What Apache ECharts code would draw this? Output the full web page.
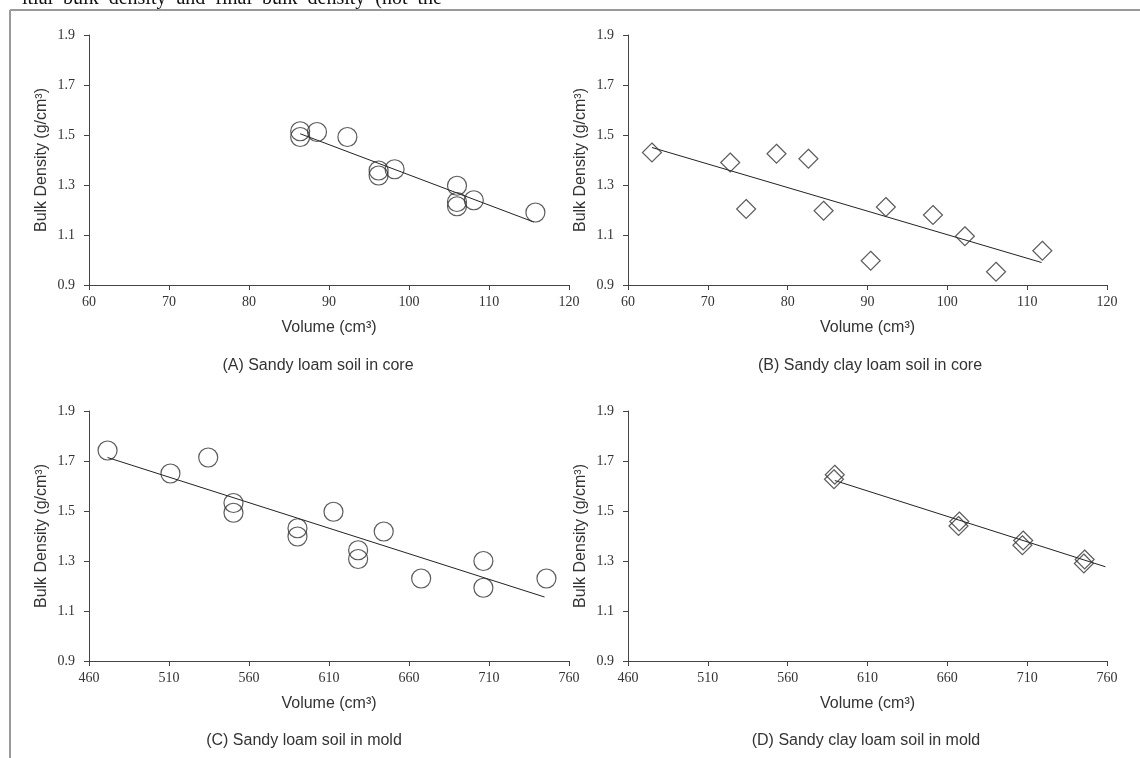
<!DOCTYPE html>
<html>
<head>
<meta charset="utf-8">
<script src="https://cdn.jsdelivr.net/npm/echarts@6/dist/echarts.min.js"></script>
<style>
  html, body { margin: 0; padding: 0; background: #fff; }
  #main { width: 1140px; height: 758px; }
</style>
</head>
<body>
<div id="main"></div>
<script>
// (A) sandy loam, core
const volA = [86.4, 86.4, 88.5, 92.3, 96.2, 96.2, 98.2, 106.0, 106.0, 106.0, 108.1, 115.8];
const densA = [1.515, 1.492, 1.512, 1.492, 1.358, 1.338, 1.363, 1.297, 1.232, 1.215, 1.239, 1.19];
const trendVolA = [86.4, 115.6];
const trendDensA = [1.505, 1.152];

// (B) sandy clay loam, core
const volB = [63.0, 72.8, 74.8, 78.6, 82.6, 84.5, 90.4, 92.3, 98.2, 102.2, 106.1, 111.9];
const densB = [1.430, 1.390, 1.204, 1.425, 1.405, 1.197, 0.997, 1.212, 1.180, 1.095, 0.953, 1.037];
const trendVolB = [63.0, 111.8];
const trendDensB = [1.450, 0.990];

// (C) sandy loam, mold
const volC = [471.6, 510.9, 534.5, 550.3, 550.3, 590.3, 590.3, 612.8, 628.2, 628.2, 644.2, 667.6, 706.5, 706.5, 745.9];
const densC = [1.742, 1.650, 1.714, 1.532, 1.493, 1.431, 1.398, 1.497, 1.343, 1.308, 1.418, 1.230, 1.300, 1.193, 1.230];
const trendVolC = [471.6, 744.7];
const trendDensC = [1.714, 1.156];

// (D) sandy clay loam, mold
const volD = [589.5, 589.0, 667.5, 667.0, 707.5, 707.0, 746.0, 745.5];
const densD = [1.645, 1.627, 1.458, 1.440, 1.382, 1.363, 1.306, 1.290];
const trendVolD = [589.5, 759];
const trendDensD = [1.622, 1.277];

const captions = [
  '(A) Sandy loam soil in core',
  '(B) Sandy clay loam soil in core',
  '(C) Sandy loam soil in mold',
  '(D) Sandy clay loam soil in mold'
];
const yTitle = 'Bulk Density (g/cm³)';
const xTitle = 'Volume (cm³)';

function pairs(xs, ys) {
  return xs.map((x, i) => [x, ys[i]]);
}

var myChart = echarts.init(document.getElementById('main'));

const grids = [
  { left: 89, top: 35, width: 480, height: 250 },
  { left: 628, top: 35, width: 479, height: 250 },
  { left: 89, top: 411, width: 480, height: 250 },
  { left: 628, top: 411, width: 479, height: 250 }
];
const xRanges = [[60, 120, 10], [60, 120, 10], [460, 760, 50], [460, 760, 50]];

const axisLine = { show: true, lineStyle: { color: '#444', width: 1 } };
const axisTick = { show: true, inside: false, length: 5, lineStyle: { color: '#444' } };
const tickFont = { fontFamily: 'Liberation Serif', fontSize: 14, color: '#333' };
const nameFont = { fontFamily: 'Liberation Sans', fontSize: 16, color: '#333' };

const xAxis = xRanges.map((r, i) => ({
  type: 'value',
  gridIndex: i,
  min: r[0],
  max: r[1],
  interval: r[2],
  name: xTitle,
  nameLocation: 'middle',
  nameGap: 35,
  nameTextStyle: nameFont,
  axisLine: axisLine,
  axisTick: axisTick,
  axisLabel: Object.assign({ margin: 10 }, tickFont),
  splitLine: { show: false }
}));

const yAxis = grids.map((g, i) => ({
  type: 'value',
  gridIndex: i,
  min: 0.9,
  max: 1.9,
  interval: 0.2,
  name: yTitle,
  nameLocation: 'middle',
  nameGap: 39,
  nameTextStyle: nameFont,
  axisLine: axisLine,
  axisTick: axisTick,
  axisLabel: Object.assign({ margin: 14, formatter: v => v.toFixed(1) }, tickFont),
  splitLine: { show: false }
}));

function scatter(i, xs, ys, symbol, size) {
  return {
    type: 'scatter',
    xAxisIndex: i,
    yAxisIndex: i,
    symbol: symbol,
    symbolSize: size,
    itemStyle: { color: 'rgba(255,255,255,0)', borderColor: '#333', borderWidth: 1.2 },
    data: pairs(xs, ys),
    z: 3
  };
}
function trend(i, xs, ys) {
  return {
    type: 'line',
    xAxisIndex: i,
    yAxisIndex: i,
    symbol: 'none',
    lineStyle: { color: '#222', width: 1 },
    data: pairs(xs, ys),
    z: 2
  };
}

const series = [
  scatter(0, volA, densA, 'circle', 19),
  trend(0, trendVolA, trendDensA),
  scatter(1, volB, densB, 'diamond', 19),
  trend(1, trendVolB, trendDensB),
  scatter(2, volC, densC, 'circle', 19),
  trend(2, trendVolC, trendDensC),
  scatter(3, volD, densD, 'diamond', 19),
  trend(3, trendVolD, trendDensD)
];

const captionPos = [[318, 366], [870, 366], [304, 741], [866, 741]];
const graphic = [
  { type: 'line', shape: { x1: 10, y1: 10, x2: 1140, y2: 10 }, style: { stroke: '#9a9a9a', lineWidth: 2 } },
  { type: 'line', shape: { x1: 10, y1: 10, x2: 10, y2: 758 }, style: { stroke: '#9a9a9a', lineWidth: 2 } },
  {
    type: 'text', x: 22, y: -11,
    style: {
      text: 'itial  bulk  density  and  final  bulk  density  (not  the',
      font: '20px "Liberation Serif"', fill: '#111', textVerticalAlign: 'top'
    }
  }
].concat(captions.map((c, i) => ({
  type: 'text',
  x: captionPos[i][0],
  y: captionPos[i][1],
  style: {
    text: c,
    font: '16px "Liberation Sans"',
    fill: '#333',
    textAlign: 'center',
    textVerticalAlign: 'middle'
  }
})));

const option = {
  backgroundColor: '#fff',
  animation: false,
  grid: grids,
  xAxis: xAxis,
  yAxis: yAxis,
  series: series,
  graphic: graphic
};
myChart.setOption(option);
</script>
</body>
</html>
